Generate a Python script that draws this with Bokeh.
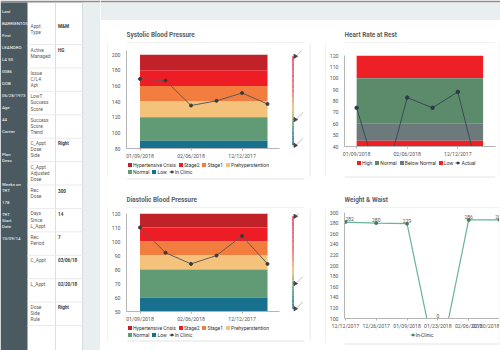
import math
from bokeh.plotting import figure
from bokeh.models import (Range1d, FixedTicker, SingleIntervalTicker, Legend, LegendItem)
from bokeh.layouts import row, column
from bokeh.embed import file_html
from bokeh.resources import INLINE
from bokeh.core.properties import value

FONT = "Roboto"
NAN = float("nan")

# ---------------- data ----------------
PATIENT_FIELDS = [["Last"], ["First"], ["L4 SS"], ["DOB"], ["Age"], ["Carrier"],
                  ["Plan", "Desc"], ["Weeks on", "TRT"], ["TRT", "Start", "Date"]]
PATIENT_VALUES = ["BARRIENTOS", "LEANDRO", "0086", "06/28/1973", "44", "", "", "178", "10/09/14"]

APPT_FIELDS = [["Appt", "Type"], ["Active", "Managed"], ["Issue", "C/L4", "Apt"],
               ["LowT", "Success", "Score"], ["Success", "Score", "Trend"],
               ["C_Appt", "Dose", "Side"], ["C_Appt", "Adjusted", "Dose"], ["Rec", "Dose"],
               ["Days", "Since", "L_Appt"], ["Rec", "Period"], ["C_Appt"], ["L_Appt"],
               ["Dose", "Side", "Rule"]]
APPT_VALUES = ["M&M", "HG", "", "", "", "Right", "", "300", "14", "7", "03/06/18", "02/20/18", "Right"]

BP_TICK_POS = [0, 2, 4]
BP_TICK_LABELS = ["01/09/2018", "02/06/2018", "12/12/2017"]

SYSTOLIC = [169, 167, 135, 141, 151, 137]
BP_BANDS = ["Hypertensive Crisis", "Stage2", "Stage1", "Prehyperstention", "Normal", "Low"]
SYS_BAND_LOW = [180, 160, 140, 120, 90, 80]
SYS_BAND_HIGH = [200, 180, 160, 140, 120, 90]
SYS_GAUGE = [198, 117, 84]

DIASTOLIC = [110, 92, 84, 90, 104, 84]
DIA_BAND_LOW = [110, 100, 90, 80, 60, 50]
DIA_BAND_HIGH = [120, 110, 100, 90, 80, 60]
DIA_GAUGE = [118, 70, 52]

HEART_RATE = [74, 0, 83, 74, 88, 0]
HR_BANDS = ["High", "Normal", "Below Normal", "Low"]
HR_BAND_LOW = [100, 60, 45, 40]
HR_BAND_HIGH = [120, 100, 60, 45]

WEIGHT_DATES = ["12/12/2017", "12/26/2017", "01/09/2018", "01/23/2018", "02/06/2018", "02/20/2018"]
WEIGHT = [282, 280, 279, 0, 286, 286]

# ---------------- styles ----------------
BP_COLORS = ["#c1222a", "#ee1d25", "#f37c3f", "#f5c27c", "#619b76", "#18708f"]
HR_COLORS = ["#ef1f26", "#5c8b6b", "#6c7a7b", "#ef1f26"]
SIDEBAR = "#4b5961"
PALE = "#e9eff1"
CARD = "#e3e3e3"
AXIS_C = "#b5b5b5"
TICK_TXT = "#555555"
BP_LINE, BP_DOT = "#5c5c5c", "#3a3a3a"
HR_LINE, HR_DOT = "#3b4a56", "#2e3b46"
WT_LINE, WT_DOT = "#69b496", "#3e7d60"
GAUGE_STOPS = [(0.0, (228, 52, 92)), (0.38, (236, 100, 108)), (0.58, (242, 188, 92)),
               (0.72, (128, 172, 120)), (0.85, (52, 140, 140)), (1.0, (34, 110, 150))]


def lerp_color(t):
    for (t0, c0), (t1, c1) in zip(GAUGE_STOPS[:-1], GAUGE_STOPS[1:]):
        if t0 <= t <= t1:
            f = (t - t0) / (t1 - t0)
            return "#%02x%02x%02x" % tuple(int(round(a + (b - a) * f)) for a, b in zip(c0, c1))
    return "#%02x%02x%02x" % GAUGE_STOPS[-1][1]


def plain_fig(w, h):
    p = figure(width=w, height=h, x_range=Range1d(0, w), y_range=Range1d(h, 0),
               output_backend="svg", toolbar_location=None, min_border=0,
               x_axis_location=None, y_axis_location=None)
    p.grid.visible = False
    p.outline_line_color = None
    p.background_fill_color = "white"
    p.border_fill_color = "white"
    return p


# ---------------- left info panel ----------------
left = plain_fig(100, 350)
left.quad(left=[0], right=[100], top=[0], bottom=[2], fill_color="#8d8d8d", line_color=None)
left.quad(left=[0], right=[27], top=[2], bottom=[350], fill_color=SIDEBAR, line_color=None)
left.quad(left=[82], right=[100], top=[2], bottom=[350], fill_color=PALE, line_color=None)
left.segment(x0=[55], y0=[2], x1=[55], y1=[350], line_color="#dedede", line_width=1)
left.segment(x0=[82], y0=[2], x1=[82], y1=[350], line_color="#d5dcdf", line_width=1)
sep_y = [44 + 23.42 * i for i in range(len(APPT_FIELDS))]
left.segment(x0=[27] * len(sep_y), x1=[82] * len(sep_y), y0=sep_y, y1=sep_y,
             line_color="#ebebeb", line_width=1)

side_txt, side_y = [], []
y = 11.0
for lines, val in zip(PATIENT_FIELDS, PATIENT_VALUES):
    for j, ln in enumerate(lines):
        side_txt.append(ln)
        side_y.append(y + j * 5.9)
    y = y + (len(lines) - 1) * 5.9 + 11.95
    if val:
        side_txt.append(val)
        side_y.append(y)
    y += 11.95
left.text(x=[1.5] * len(side_txt), y=side_y, text=side_txt, text_font=value(FONT),
          text_font_size="4.4px", text_color="#ffffff", text_baseline="middle")

lab_txt, lab_y, val_txt, val_y = [], [], [], []
for i, (lines, val) in enumerate(zip(APPT_FIELDS, APPT_VALUES)):
    top = 20.6 + 23.42 * i
    for j, ln in enumerate(lines):
        lab_txt.append(ln)
        lab_y.append(top + 5.5 + j * 6.1)
    if val:
        val_txt.append(val)
        val_y.append(top + 5.5)
left.text(x=[30] * len(lab_txt), y=lab_y, text=lab_txt, text_font=value(FONT),
          text_font_size="4.8px", text_color="#5a5a5a", text_baseline="middle")
left.text(x=[57.5] * len(val_txt), y=val_y, text=val_txt, text_font=value(FONT),
          text_font_size="4.6px", text_font_style="bold", text_color="#3a3a3a",
          text_baseline="middle")

# ---------------- header strip ----------------
header = plain_fig(400, 20)
header.quad(left=[0], right=[400], top=[0], bottom=[2], fill_color="#8d8d8d", line_color=None)
header.quad(left=[0], right=[400], top=[2], bottom=[20], fill_color=PALE, line_color=None)


# ---------------- building blocks ----------------
def pad_fig(w, h, x, y0, y1):
    p = plain_fig(w, h)
    p.segment(x0=[x], y0=[y0], x1=[x], y1=[y1], line_color=CARD, line_width=1)
    return p


def title_fig(w, h, text, ty):
    p = plain_fig(w, h)
    p.text(x=[0.0], y=[ty], text=[text], text_font=value(FONT), text_font_size="6.4px",
           text_font_style="bold", text_color="#5e5e5e", text_baseline="middle")
    p.segment(x0=[0], y0=[h - 0.5], x1=[w], y1=[h - 0.5], line_color=CARD, line_width=1)
    return p


def bottom_fig(w, h, ly):
    p = plain_fig(w, h)
    p.segment(x0=[0], y0=[ly], x1=[w], y1=[ly], line_color=CARD, line_width=1)
    return p


def legend_fig(w, h, entries, loc, margin):
    # legend-only strip; the proxy renderers hold no drawable points
    p = plain_fig(w, h)
    items = []
    for label, kind, c1, c2 in entries:
        if kind == "box":
            r = p.quad(left=[NAN], right=[NAN], top=[NAN], bottom=[NAN], fill_color=c1,
                       line_color=None)
            items.append(LegendItem(label=label, renderers=[r]))
        else:
            r1 = p.line(x=[NAN, NAN], y=[NAN, NAN], line_color=c1, line_width=1)
            r2 = p.scatter(x=[NAN], y=[NAN], size=3, color=c2)
            items.append(LegendItem(label=label, renderers=[r1, r2]))
    leg = Legend(items=items, location=loc, orientation="horizontal", margin=margin, padding=0,
                 spacing=2, glyph_width=5, glyph_height=5, label_height=5, label_width=1,
                 label_standoff=1, label_text_font=FONT, label_text_font_size="5px",
                 label_text_color="#333333", border_line_color=None,
                 background_fill_alpha=0)
    p.add_layout(leg)
    return p


def chart(w, h, fl, fr, ft, fb, xr, yr):
    p = figure(width=w, height=h, x_range=Range1d(*xr), y_range=Range1d(*yr),
               output_backend="svg", toolbar_location=None,
               min_border_left=fl, min_border_right=w - fr,
               min_border_top=ft, min_border_bottom=h - fb)
    p.outline_line_color = None
    p.grid.visible = False
    p.background_fill_color = "white"
    p.border_fill_color = "white"
    for ax in p.axis:
        ax.axis_line_color = AXIS_C
        ax.major_tick_line_color = AXIS_C
        ax.minor_tick_line_color = None
        ax.major_label_text_font = FONT
        ax.major_label_text_font_size = "5.2px"
        ax.major_label_text_color = TICK_TXT
    p.yaxis.major_tick_out = 0
    p.yaxis.major_tick_in = 0
    p.yaxis.major_label_standoff = 2
    p.xaxis.major_tick_out = 2
    p.xaxis.major_tick_in = 0
    p.xaxis.major_label_standoff = 2
    sx = (fr - fl) / (xr[1] - xr[0])
    sy = (fb - ft) / (yr[1] - yr[0])
    return p, sx, sy


def bp_chart(vals, lows, highs, gauge, h, ft, fb, yr, ytick):
    w, fl, fr = 201, 15, 196
    xr = (-0.53, 6.45)
    p, sx, sy = chart(w, h, fl, fr, ft, fb, xr, yr)
    n = len(vals)
    xs = list(range(n))
    for lo, hi, c in zip(lows, highs, BP_COLORS):
        p.quad(left=[0], right=[n - 1], bottom=[lo], top=[hi], fill_color=c, line_color=None)
    p.line(xs, vals, line_color=BP_LINE, line_width=1)
    p.scatter(xs, vals, size=3, color=BP_DOT)
    p.xaxis.ticker = FixedTicker(ticks=BP_TICK_POS)
    p.xaxis.major_label_overrides = dict(zip(BP_TICK_POS, BP_TICK_LABELS))
    p.xaxis.bounds = (xr[0], n - 1 + 0.46)
    p.yaxis.ticker = SingleIntervalTicker(interval=ytick)

    # gauge bar (decoration at the right of the plot)
    gx = n - 1 + 1.0
    segs = 36
    g0, g1 = gauge[0], gauge[-1]
    ys = [g0 + (g1 - g0) * k / segs for k in range(segs + 1)]
    p.segment(x0=[gx] * segs, x1=[gx] * segs, y0=ys[:-1], y1=ys[1:],
              line_color=[lerp_color((k + 0.5) / segs) for k in range(segs)], line_width=1.6)
    p.scatter(x=[gx + 2.2 / sx] * len(gauge), y=gauge, marker="triangle",
              angle=-math.pi / 2, size=4, color="#444444")
    p.segment(x0=[gx + 4 / sx] * len(gauge), y0=[g + 1 / sy for g in gauge],
              x1=[gx + 10 / sx] * len(gauge), y1=[g + 7 / sy for g in gauge],
              line_color="#bdbdbd", line_width=1)
    return p


BP_LEG1 = [(BP_BANDS[i], "box", BP_COLORS[i], None) for i in range(4)]
BP_LEG2 = [(BP_BANDS[4], "box", BP_COLORS[4], None), (BP_BANDS[5], "box", BP_COLORS[5], None),
           ("In Clinic", "line", BP_LINE, BP_DOT)]

# ---------------- systolic tile (218 x 165) ----------------
sys_chart = bp_chart(SYSTOLIC, SYS_BAND_LOW, SYS_BAND_HIGH, SYS_GAUGE, 118, 7, 107,
                     (80, 205.4), 20)
tile_a = row(pad_fig(8, 165, 7.5, 23, 156),
             column(title_fig(201, 23, "Systolic Blood Pressure", 14.7),
                    sys_chart,
                    legend_fig(201, 7, BP_LEG1, "center_left", 1),
                    legend_fig(201, 7, BP_LEG2, "center_left", 1),
                    bottom_fig(201, 10, 1.5)),
             pad_fig(9, 165, 0.5, 23, 156))

# ---------------- diastolic tile (218 x 165) ----------------
dia_chart = bp_chart(DIASTOLIC, DIA_BAND_LOW, DIA_BAND_HIGH, DIA_GAUGE, 116, 5, 105,
                     (50, 120), 10)
tile_c = row(pad_fig(8, 165, 7.5, 23, 155),
             column(title_fig(201, 23, "Diastolic Blood Pressure", 14),
                    dia_chart,
                    legend_fig(201, 7, BP_LEG1, "center_left", 1),
                    legend_fig(201, 7, BP_LEG2, "center_left", 1),
                    bottom_fig(201, 12, 2.5)),
             pad_fig(9, 165, 0.5, 23, 155))

# ---------------- heart rate tile (182 x 165) ----------------
hr_chart, _, _ = chart(173, 116, 15, 169, 12, 105, (-0.48, 5.49), (40, 120))
n = len(HEART_RATE)
xs = list(range(n))
for lo, hi, c in zip(HR_BAND_LOW, HR_BAND_HIGH, HR_COLORS):
    hr_chart.quad(left=[0], right=[n - 1], bottom=[lo], top=[hi], fill_color=c, line_color=None)
hr_chart.line(xs, HEART_RATE, line_color=HR_LINE, line_width=1)
hr_chart.scatter(xs, HEART_RATE, size=3.5, color=HR_DOT)
hr_chart.xaxis.ticker = FixedTicker(ticks=BP_TICK_POS)
hr_chart.xaxis.major_label_overrides = dict(zip(BP_TICK_POS, BP_TICK_LABELS))
hr_chart.yaxis.ticker = SingleIntervalTicker(interval=10)
HR_LEG = [(HR_BANDS[i], "box", HR_COLORS[i], None) for i in range(4)] + \
         [("Actual", "line", HR_LINE, HR_DOT)]
tile_b = row(pad_fig(8, 165, 7.5, 23, 156),
             column(title_fig(173, 23, "Heart Rate at Rest", 14.7),
                    hr_chart,
                    legend_fig(173, 7, HR_LEG, "center_left", 12),
                    bottom_fig(173, 19, 10.5)),
             pad_fig(1, 165, 0.5, 23, 156))

# ---------------- weight tile (182 x 165) ----------------
wt_chart, _, _ = chart(173, 123, 14, 173, 4, 113, (-0.03, 5.0), (100, 300))
n = len(WEIGHT)
xs = list(range(n))
wt_chart.line(xs, WEIGHT, line_color=WT_LINE, line_width=1.2)
wt_chart.scatter(xs, WEIGHT, size=3, color=WT_DOT)
lab_y = [max(v, 100) for v in WEIGHT]
wt_chart.text(x=xs[:1], y=lab_y[:1], text=[str(v) for v in WEIGHT[:1]], text_align="left",
              text_baseline="bottom", y_offset=-1, text_font=value(FONT),
              text_font_size="5px", text_color="#555555")
wt_chart.text(x=xs[1:], y=lab_y[1:], text=[str(v) for v in WEIGHT[1:]], text_align="center",
              text_baseline="bottom", y_offset=-1, text_font=value(FONT),
              text_font_size="5px", text_color="#555555")
wt_chart.xaxis.ticker = FixedTicker(ticks=xs)
wt_chart.xaxis.major_label_overrides = dict(zip(xs, WEIGHT_DATES))
wt_chart.yaxis.ticker = SingleIntervalTicker(interval=20)
tile_d = row(pad_fig(8, 165, 7.5, 23, 158),
             column(title_fig(173, 23, "Weight & Waist", 14),
                    wt_chart,
                    legend_fig(173, 7, [("In-Clinic", "line", WT_LINE, WT_DOT)], "center", 0),
                    bottom_fig(173, 12, 5.5)),
             pad_fig(1, 165, 0.5, 23, 158))

layout = row(left, column(header, row(tile_a, tile_b), row(tile_c, tile_d)))

open("out.html", "w").write(file_html(layout, INLINE))
